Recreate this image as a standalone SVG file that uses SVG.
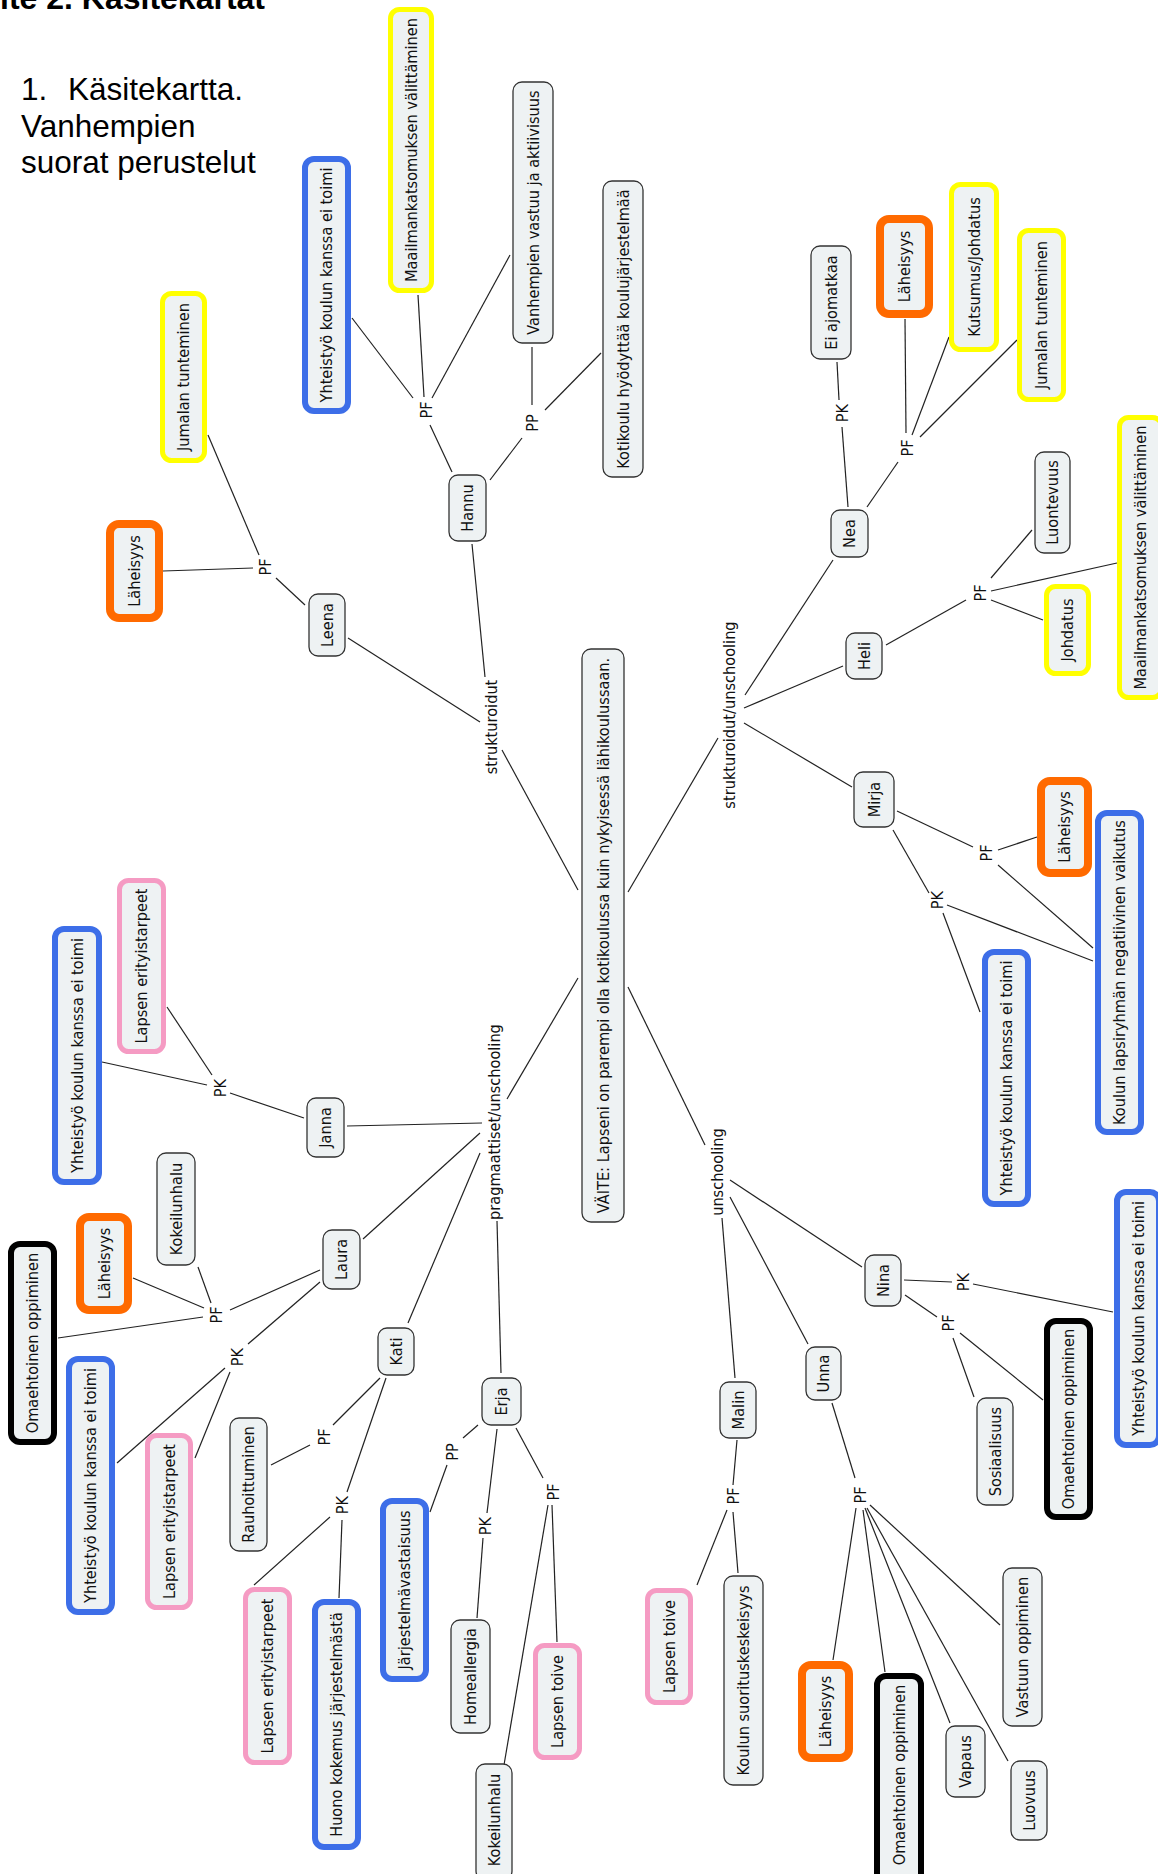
<svg xmlns="http://www.w3.org/2000/svg" width="1158" height="1874" viewBox="0 0 1158 1874">
<style>
.bg{fill:#ffffff}
.n rect{fill:#eef2f3;stroke:#333333;stroke-width:1.3}
.n text,.lbl text{font-family:"DejaVu Sans Condensed","DejaVu Sans",sans-serif;font-stretch:condensed;font-size:16.2px;fill:#111111;text-anchor:middle;dominant-baseline:central}
.y rect{stroke:#ffff00;stroke-width:5}
.o rect{stroke:#ff6a00;stroke-width:8}
.b rect{stroke:#3d6ee8;stroke-width:6}
.p rect{stroke:#f59bc3;stroke-width:5}
.k rect{stroke:#000000;stroke-width:6}
.c line{stroke:#222222;stroke-width:1.2}
.t{font-family:"Liberation Sans",Arial,sans-serif;fill:#000000}
</style>
<rect class="bg" x="0" y="0" width="1158" height="1874"/>
<g id="title">
<text class="t" x="0" y="9" font-size="32" font-weight="bold">ite 2. Käsitekartat</text>
<text class="t" x="21" y="100" font-size="31.5">1.</text>
<text class="t" x="68" y="100" font-size="31.5">Käsitekartta.</text>
<text class="t" x="21" y="137" font-size="31.5">Vanhempien</text>
<text class="t" x="21" y="173" font-size="31.5">suorat perustelut</text>
</g>
<g id="connectors" class="c">
<line x1="352" y1="318" x2="413" y2="398"/>
<line x1="418" y1="295" x2="424" y2="397"/>
<line x1="510" y1="255" x2="432" y2="398"/>
<line x1="430" y1="425" x2="452" y2="472"/>
<line x1="532" y1="347" x2="532" y2="405"/>
<line x1="601" y1="353" x2="545" y2="410"/>
<line x1="522" y1="438" x2="490" y2="480"/>
<line x1="472" y1="544" x2="485" y2="677"/>
<line x1="208" y1="435" x2="259" y2="555"/>
<line x1="163" y1="571" x2="253" y2="568"/>
<line x1="276" y1="578" x2="305" y2="605"/>
<line x1="348" y1="638" x2="480" y2="722"/>
<line x1="502" y1="750" x2="578" y2="890"/>
<line x1="628" y1="892" x2="718" y2="738"/>
<line x1="745" y1="695" x2="833" y2="560"/>
<line x1="744" y1="708" x2="843" y2="666"/>
<line x1="744" y1="723" x2="852" y2="787"/>
<line x1="848" y1="507" x2="842" y2="427"/>
<line x1="839" y1="400" x2="837" y2="362"/>
<line x1="867" y1="507" x2="898" y2="462"/>
<line x1="906" y1="433" x2="905" y2="319"/>
<line x1="912" y1="435" x2="949" y2="337"/>
<line x1="920" y1="437" x2="1017" y2="340"/>
<line x1="886" y1="645" x2="966" y2="600"/>
<line x1="991" y1="578" x2="1032" y2="530"/>
<line x1="991" y1="591" x2="1117" y2="563"/>
<line x1="991" y1="600" x2="1043" y2="620"/>
<line x1="897" y1="811" x2="973" y2="847"/>
<line x1="998" y1="850" x2="1037" y2="837"/>
<line x1="998" y1="865" x2="1093" y2="948"/>
<line x1="893" y1="830" x2="929" y2="893"/>
<line x1="947" y1="905" x2="1093" y2="961"/>
<line x1="943" y1="913" x2="980" y2="1012"/>
<line x1="578" y1="978" x2="507" y2="1099"/>
<line x1="347" y1="1126" x2="482" y2="1123"/>
<line x1="363" y1="1239" x2="480" y2="1133"/>
<line x1="480" y1="1153" x2="408" y2="1323"/>
<line x1="497" y1="1221" x2="501" y2="1373"/>
<line x1="304" y1="1118" x2="230" y2="1093"/>
<line x1="207" y1="1085" x2="102" y2="1062"/>
<line x1="212" y1="1075" x2="167" y2="1007"/>
<line x1="320" y1="1270" x2="230" y2="1310"/>
<line x1="211" y1="1303" x2="198" y2="1267"/>
<line x1="204" y1="1308" x2="133" y2="1278"/>
<line x1="203" y1="1317" x2="58" y2="1338"/>
<line x1="320" y1="1282" x2="248" y2="1344"/>
<line x1="225" y1="1368" x2="117" y2="1463"/>
<line x1="230" y1="1372" x2="195" y2="1458"/>
<line x1="380" y1="1378" x2="333" y2="1425"/>
<line x1="310" y1="1445" x2="271" y2="1465"/>
<line x1="386" y1="1378" x2="347" y2="1492"/>
<line x1="330" y1="1517" x2="254" y2="1585"/>
<line x1="342" y1="1520" x2="339" y2="1598"/>
<line x1="478" y1="1425" x2="463" y2="1438"/>
<line x1="447" y1="1465" x2="430" y2="1512"/>
<line x1="497" y1="1429" x2="487" y2="1513"/>
<line x1="483" y1="1538" x2="477" y2="1618"/>
<line x1="516" y1="1428" x2="543" y2="1478"/>
<line x1="552" y1="1505" x2="557" y2="1642"/>
<line x1="548" y1="1505" x2="504" y2="1765"/>
<line x1="628" y1="987" x2="705" y2="1145"/>
<line x1="722" y1="1218" x2="735" y2="1378"/>
<line x1="730" y1="1180" x2="862" y2="1267"/>
<line x1="730" y1="1197" x2="808" y2="1344"/>
<line x1="737" y1="1440" x2="733" y2="1485"/>
<line x1="727" y1="1510" x2="697" y2="1585"/>
<line x1="733" y1="1512" x2="738" y2="1573"/>
<line x1="904" y1="1280" x2="952" y2="1282"/>
<line x1="973" y1="1284" x2="1113" y2="1312"/>
<line x1="905" y1="1295" x2="937" y2="1317"/>
<line x1="960" y1="1333" x2="1043" y2="1400"/>
<line x1="953" y1="1338" x2="974" y2="1397"/>
<line x1="832" y1="1403" x2="855" y2="1478"/>
<line x1="856" y1="1508" x2="833" y2="1660"/>
<line x1="863" y1="1510" x2="885" y2="1672"/>
<line x1="865" y1="1508" x2="950" y2="1723"/>
<line x1="867" y1="1508" x2="1008" y2="1761"/>
<line x1="870" y1="1505" x2="1000" y2="1625"/>
<g class="lbl">
<text transform="translate(491,727) rotate(-90)">strukturoidut</text>
<text transform="translate(729,715) rotate(-90)">strukturoidut/unschooling</text>
<text transform="translate(494,1122) rotate(-90)">pragmaattiset/unschooling</text>
<text transform="translate(717,1172) rotate(-90)">unschooling</text>
<text transform="translate(426,410) rotate(-90)">PF</text>
<text transform="translate(532,423) rotate(-90)">PP</text>
<text transform="translate(265,567) rotate(-90)">PF</text>
<text transform="translate(842,413) rotate(-90)">PK</text>
<text transform="translate(907,448) rotate(-90)">PF</text>
<text transform="translate(980,593) rotate(-90)">PF</text>
<text transform="translate(986,853) rotate(-90)">PF</text>
<text transform="translate(937,900) rotate(-90)">PK</text>
<text transform="translate(220,1088) rotate(-90)">PK</text>
<text transform="translate(216,1315) rotate(-90)">PF</text>
<text transform="translate(237,1357) rotate(-90)">PK</text>
<text transform="translate(324,1437) rotate(-90)">PF</text>
<text transform="translate(342,1505) rotate(-90)">PK</text>
<text transform="translate(452,1452) rotate(-90)">PP</text>
<text transform="translate(485,1526) rotate(-90)">PK</text>
<text transform="translate(553,1492) rotate(-90)">PF</text>
<text transform="translate(733,1496) rotate(-90)">PF</text>
<text transform="translate(963,1282) rotate(-90)">PK</text>
<text transform="translate(948,1323) rotate(-90)">PF</text>
<text transform="translate(860,1495) rotate(-90)">PF</text>
</g>
</g>
<g id="nodes">
<g id="root" class="n"><rect x="582" y="649" width="42" height="573" rx="9"/><text transform="translate(603,935.5) rotate(-90)">VÄITE: Lapseni on parempi olla kotikoulussa kuin nykyisessä lähikoulussaan.</text></g>
<g id="hannu" class="n"><rect x="449" y="475" width="37" height="66" rx="9"/><text transform="translate(467.5,508) rotate(-90)">Hannu</text></g>
<g id="hannu-vanhempien" class="n"><rect x="513" y="82" width="40" height="261" rx="9"/><text transform="translate(533,212.5) rotate(-90)">Vanhempien vastuu ja aktiivisuus</text></g>
<g id="hannu-kotikoulu" class="n"><rect x="603" y="181" width="40" height="296" rx="9"/><text transform="translate(623,329) rotate(-90)">Kotikoulu hyödyttää koulujärjestelmää</text></g>
<g id="hannu-maailman" class="n y"><rect x="390.5" y="9.5" width="41" height="281" rx="9"/><text transform="translate(411,150) rotate(-90)">Maailmankatsomuksen välittäminen</text></g>
<g id="hannu-yhteistyo" class="n b"><rect x="305" y="159" width="43" height="252" rx="9"/><text transform="translate(326.5,285) rotate(-90)">Yhteistyö koulun kanssa ei toimi</text></g>
<g id="leena" class="n"><rect x="309" y="594" width="36" height="62" rx="9"/><text transform="translate(327,625) rotate(-90)">Leena</text></g>
<g id="leena-jumalan" class="n y"><rect x="162.5" y="293.5" width="42" height="167" rx="9"/><text transform="translate(183.5,377) rotate(-90)">Jumalan tunteminen</text></g>
<g id="leena-laheisyys" class="n o"><rect x="110" y="524" width="49" height="94" rx="9"/><text transform="translate(134.5,571) rotate(-90)">Läheisyys</text></g>
<g id="nea" class="n"><rect x="831" y="510" width="37" height="47" rx="9"/><text transform="translate(849.5,533.5) rotate(-90)">Nea</text></g>
<g id="nea-ei" class="n"><rect x="811" y="246" width="40" height="113" rx="9"/><text transform="translate(831,302.5) rotate(-90)">Ei ajomatkaa</text></g>
<g id="nea-laheisyys" class="n o"><rect x="880" y="219" width="49" height="95" rx="9"/><text transform="translate(904.5,266.5) rotate(-90)">Läheisyys</text></g>
<g id="nea-kutsumus" class="n y"><rect x="951.5" y="184.5" width="45" height="165" rx="9"/><text transform="translate(974,267) rotate(-90)">Kutsumus/Johdatus</text></g>
<g id="nea-jumalan" class="n y"><rect x="1019.5" y="230.5" width="44" height="169" rx="9"/><text transform="translate(1041.5,315) rotate(-90)">Jumalan tunteminen</text></g>
<g id="heli" class="n"><rect x="846" y="633" width="36" height="46" rx="9"/><text transform="translate(864,656) rotate(-90)">Heli</text></g>
<g id="heli-luontevuus" class="n"><rect x="1035" y="452" width="35" height="101" rx="9"/><text transform="translate(1052.5,502.5) rotate(-90)">Luontevuus</text></g>
<g id="heli-johdatus" class="n y"><rect x="1046.5" y="586.5" width="42" height="87" rx="9"/><text transform="translate(1067.5,630) rotate(-90)">Johdatus</text></g>
<g id="heli-maailman" class="n y"><rect x="1119.5" y="417.5" width="42" height="280" rx="9"/><text transform="translate(1140.5,557.5) rotate(-90)">Maailmankatsomuksen välittäminen</text></g>
<g id="mirja" class="n"><rect x="854" y="772" width="40" height="55" rx="9"/><text transform="translate(874,799.5) rotate(-90)">Mirja</text></g>
<g id="mirja-laheisyys" class="n o"><rect x="1041" y="781" width="47" height="92" rx="9"/><text transform="translate(1064.5,827) rotate(-90)">Läheisyys</text></g>
<g id="mirja-koulun" class="n b"><rect x="1098" y="813" width="43" height="319" rx="9"/><text transform="translate(1119.5,972.5) rotate(-90)">Koulun lapsiryhmän negatiivinen vaikutus</text></g>
<g id="mirja-yhteistyo" class="n b"><rect x="985" y="952" width="43" height="252" rx="9"/><text transform="translate(1006.5,1078) rotate(-90)">Yhteistyö koulun kanssa ei toimi</text></g>
<g id="janna" class="n"><rect x="307" y="1098" width="37" height="59" rx="9"/><text transform="translate(325.5,1127.5) rotate(-90)">Janna</text></g>
<g id="janna-yhteistyo" class="n b"><rect x="55" y="929" width="44" height="253" rx="9"/><text transform="translate(77,1055.5) rotate(-90)">Yhteistyö koulun kanssa ei toimi</text></g>
<g id="janna-lapsen" class="n p"><rect x="119.5" y="880.5" width="44" height="171" rx="9"/><text transform="translate(141.5,966) rotate(-90)">Lapsen erityistarpeet</text></g>
<g id="laura" class="n"><rect x="323" y="1230" width="37" height="59" rx="9"/><text transform="translate(341.5,1259.5) rotate(-90)">Laura</text></g>
<g id="laura-kokeilunhalu" class="n"><rect x="157" y="1153" width="38" height="112" rx="9"/><text transform="translate(176,1209) rotate(-90)">Kokeilunhalu</text></g>
<g id="laura-laheisyys" class="n o"><rect x="80" y="1217" width="48" height="93" rx="9"/><text transform="translate(104,1263.5) rotate(-90)">Läheisyys</text></g>
<g id="laura-omaehtoinen" class="n k"><rect x="11" y="1244" width="43" height="198" rx="9"/><text transform="translate(32.5,1343) rotate(-90)">Omaehtoinen oppiminen</text></g>
<g id="laura-yhteistyo" class="n b"><rect x="69" y="1359" width="43" height="253" rx="9"/><text transform="translate(90.5,1485.5) rotate(-90)">Yhteistyö koulun kanssa ei toimi</text></g>
<g id="laura-lapsen" class="n p"><rect x="147.5" y="1435.5" width="43" height="172" rx="9"/><text transform="translate(169,1521.5) rotate(-90)">Lapsen erityistarpeet</text></g>
<g id="kati" class="n"><rect x="378" y="1328" width="36" height="47" rx="9"/><text transform="translate(396,1351.5) rotate(-90)">Kati</text></g>
<g id="kati-rauhoittuminen" class="n"><rect x="230" y="1418" width="37" height="133" rx="9"/><text transform="translate(248.5,1484.5) rotate(-90)">Rauhoittuminen</text></g>
<g id="kati-lapsen" class="n p"><rect x="245.5" y="1589.5" width="44" height="173" rx="9"/><text transform="translate(267.5,1676) rotate(-90)">Lapsen erityistarpeet</text></g>
<g id="kati-huono" class="n b"><rect x="315" y="1602" width="43" height="245" rx="9"/><text transform="translate(336.5,1724.5) rotate(-90)">Huono kokemus järjestelmästä</text></g>
<g id="erja" class="n"><rect x="482" y="1378" width="39" height="47" rx="9"/><text transform="translate(501.5,1401.5) rotate(-90)">Erja</text></g>
<g id="erja-jarjestelma" class="n b"><rect x="383" y="1501" width="43" height="178" rx="9"/><text transform="translate(404.5,1590) rotate(-90)">Järjestelmävastaisuus</text></g>
<g id="erja-homeallergia" class="n"><rect x="451" y="1620" width="39" height="113" rx="9"/><text transform="translate(470.5,1676.5) rotate(-90)">Homeallergia</text></g>
<g id="erja-lapsen" class="n p"><rect x="535.5" y="1645.5" width="44" height="112" rx="9"/><text transform="translate(557.5,1701.5) rotate(-90)">Lapsen toive</text></g>
<g id="erja-kokeilunhalu" class="n"><rect x="476" y="1764" width="36" height="116" rx="9"/><text transform="translate(494,1820) rotate(-90)">Kokeilunhalu</text></g>
<g id="malin" class="n"><rect x="720" y="1382" width="36" height="56" rx="9"/><text transform="translate(738,1410) rotate(-90)">Malin</text></g>
<g id="malin-lapsen" class="n p"><rect x="647.5" y="1590.5" width="43" height="112" rx="9"/><text transform="translate(669,1646.5) rotate(-90)">Lapsen toive</text></g>
<g id="malin-koulun" class="n"><rect x="724" y="1576" width="39" height="209" rx="9"/><text transform="translate(743.5,1680.5) rotate(-90)">Koulun suorituskeskeisyys</text></g>
<g id="nina" class="n"><rect x="865" y="1255" width="36" height="51" rx="9"/><text transform="translate(883,1280.5) rotate(-90)">Nina</text></g>
<g id="nina-yhteistyo" class="n b"><rect x="1117" y="1192" width="42" height="253" rx="9"/><text transform="translate(1138,1318.5) rotate(-90)">Yhteistyö koulun kanssa ei toimi</text></g>
<g id="nina-omaehtoinen" class="n k"><rect x="1047" y="1321" width="43" height="196" rx="9"/><text transform="translate(1068.5,1419) rotate(-90)">Omaehtoinen oppiminen</text></g>
<g id="nina-sosiaalisuus" class="n"><rect x="977" y="1398" width="36" height="107" rx="9"/><text transform="translate(995,1451.5) rotate(-90)">Sosiaalisuus</text></g>
<g id="unna" class="n"><rect x="806" y="1347" width="35" height="53" rx="9"/><text transform="translate(823.5,1373.5) rotate(-90)">Unna</text></g>
<g id="unna-laheisyys" class="n o"><rect x="802" y="1665" width="47" height="93" rx="9"/><text transform="translate(825.5,1711.5) rotate(-90)">Läheisyys</text></g>
<g id="unna-omaehtoinen" class="n k"><rect x="877" y="1676" width="44" height="210" rx="9"/><text transform="translate(899,1775) rotate(-90)">Omaehtoinen oppiminen</text></g>
<g id="unna-vapaus" class="n"><rect x="946" y="1726" width="39" height="71" rx="9"/><text transform="translate(965.5,1761.5) rotate(-90)">Vapaus</text></g>
<g id="unna-luovuus" class="n"><rect x="1011" y="1761" width="36" height="79" rx="9"/><text transform="translate(1029,1800.5) rotate(-90)">Luovuus</text></g>
<g id="unna-vastuun" class="n"><rect x="1003" y="1568" width="39" height="158" rx="9"/><text transform="translate(1022.5,1647) rotate(-90)">Vastuun oppiminen</text></g>
</g>
</svg>
